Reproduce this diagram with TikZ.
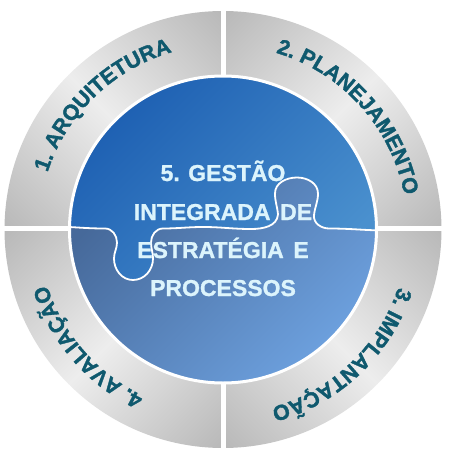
\documentclass[tikz,border=0pt]{standalone}
\usepackage{fontspec}
\setmainfont{Liberation Sans}
\newfontfamily\ringsans{Liberation Sans}[BoldFeatures={FakeBold=1.6}]
\newfontfamily\midsans{Liberation Sans}[BoldFeatures={FakeBold=1.1}]
\usetikzlibrary{decorations.text}
\definecolor{ringdark}{HTML}{B6B6B6}
\definecolor{ringlight}{HTML}{EDEDED}
\definecolor{ringtxt}{HTML}{0F596E}
\definecolor{topdark}{HTML}{1A5CB0}
\definecolor{toplight}{HTML}{4A90CE}
\definecolor{botdark}{HTML}{46699A}
\definecolor{botlight}{HTML}{6EA2E0}
\definecolor{centertxt}{HTML}{DCF4FC}
\pgfdeclarehorizontalshading{ringshade}{100bp}{color(0bp)=(ringdark); color(25bp)=(ringdark); color(50bp)=(ringlight); color(75bp)=(ringdark); color(100bp)=(ringdark)}
\newcommand\ringfont{\ringsans\fontsize{21.5}{24}\selectfont\bfseries\color{ringtxt}}
\tikzset{
  puzzlecut/.style={insert path={(-165,3) to[out=-2,in=180] (-118,1) to[out=0,in=90] (-106,-13)
     to[out=-90,in=90] (-109,-29) to[out=-90,in=180] (-90,-50.5) to[out=0,in=-90] (-70,-29)
     to[out=90,in=-90] (-72,-13) to[out=90,in=180] (-60,1) to[out=0,in=180] (-20,2.5)
     to[out=0,in=180] (28,0.5) to[out=0,in=-95] (55,15) to[out=95,in=-90] (52,36)
     to[out=90,in=180] (74,52) to[out=0,in=90] (95,36) to[out=-90,in=85] (91,14)
     to[out=-95,in=180] (106,1) to[out=0,in=180] (165,-1)}},
  ringlabel/.style={decorate, decoration={text along path, text align=center, text={|\ringfont|#1}}},
  centertext/.style={font=\midsans\fontsize{23}{23}\selectfont\bfseries, text=centertxt, anchor=base, inner sep=0pt}
}
\begin{document}
\begin{tikzpicture}[x=1pt,y=1pt]
\useasboundingbox (-223,-229.5) rectangle (226,229.5);
% ring quadrants
\foreach \rot/\a in {45/90, -45/0, -135/-90, 135/180} {
  \begin{scope}
    \clip (0,0) -- (\a:218.5) arc[start angle=\a, delta angle=90, radius=218.5] -- cycle;
    \begin{scope}[transform canvas={rotate=\rot}]
      \shade[shading=ringshade] (-160,0) rectangle (160,225);
    \end{scope}
  \end{scope}
}
% gaps
\draw[white, line width=5pt] (1,-225) -- (1,225);
\draw[white, line width=5pt] (-225,1.5) -- (225,1.5);
% centre disc
\begin{scope}
  \clip (0,0) circle[radius=153.5];
  \shade[top color=botdark, bottom color=botlight, shading angle=45] (-155,-155) rectangle (155,60);
  \shade[top color=topdark, bottom color=toplight, shading angle=45] [puzzlecut] -- (165,170) -- (-165,170) -- cycle;
  \draw[white, line width=1.8pt] [puzzlecut];
\end{scope}
\draw[white, line width=3pt] (0,0) circle[radius=153.5];
% ring labels
\path[ringlabel={1. ARQUITETURA}] (176:184.5) arc[start angle=176, end angle=92, radius=184.5];
\path[ringlabel={2. PLANEJAMENTO}] (84:184.5) arc[start angle=84, end angle=0, radius=184.5];
\path[ringlabel={3. IMPLANTAÇÃO}] (-4.5:184.5) arc[start angle=-4.5, end angle=-88.5, radius=184.5];
\path[ringlabel={4. AVALIAÇÃO}] (263:184.5) arc[start angle=263, end angle=179, radius=184.5];
% centre text
\node[centertext] (l1) at (0,48.5) {5. GESTÃO};
\node[centertext] (l2) at (0,9.5) {INTEGRADA\hspace{0.42em}DE};
\node[centertext] (l3) at (0,-28.5) {ESTRATÉGIA\hspace{0.42em}E};
\node[centertext] (l4) at (0,-66.5) {PROCESSOS};
\end{tikzpicture}
\end{document}
